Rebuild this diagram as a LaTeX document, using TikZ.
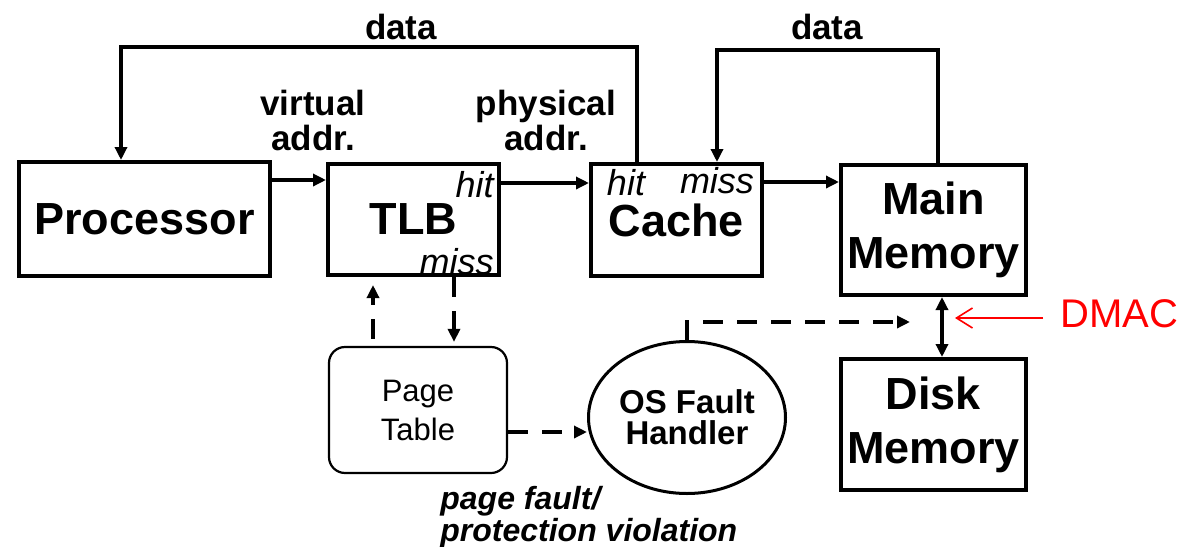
\documentclass[tikz,border=0pt]{standalone}
\usepackage{fontspec}
\setmainfont{Liberation Sans}
\usetikzlibrary{arrows.meta,shapes.geometric}
\begin{document}
\begin{tikzpicture}[x=0.5pt,y=-0.5pt,line join=miter,
 box/.style={draw,line width=2pt,inner sep=0pt,align=center,font=\fontsize{22.5}{27}\selectfont\bfseries},
 arr/.style={line width=1.75pt,-{Triangle[length=6.5pt,width=6pt]}},
 dsh/.style={dash pattern=on 10pt off 7pt},
 lbl/.style={font=\fontsize{17.5}{17.5}\selectfont\bfseries,align=center,inner sep=0pt},
 hm/.style={font=\fontsize{18}{18}\selectfont\itshape,inner sep=0pt},
]
\useasboundingbox (0,0) rectangle (1196,547);
% boxes
\node[box,minimum width=125.5pt,minimum height=57pt] (proc) at (144.5,219) {Processor};
\node[box,minimum width=85.5pt,minimum height=55.5pt] (tlb) at (413.5,219.5) {TLB};
\node[box,minimum width=85.5pt,minimum height=56pt] (cache) at (676.5,220) {Cache};
\node[box,minimum width=92.5pt,minimum height=65pt] (mem) at (933.5,230) {Main\\Memory};
\node[box,minimum width=92.5pt,minimum height=65.5pt] (disk) at (933.5,424.5) {Disk\\Memory};
\node[draw,line width=1.1pt,rounded corners=8pt,minimum width=89pt,minimum height=63pt,inner sep=0pt,align=center,font=\fontsize{15.5}{19.5}\selectfont] (pt) at (418,410) {Page\\Table};
\node[ellipse,draw,line width=1.5pt,minimum width=98.5pt,minimum height=76pt,inner sep=0pt,align=center,font=\fontsize{16.5}{15.5}\selectfont\bfseries] (os) at (687,417.5) {OS Fault\\Handler};
% labels
\node[lbl] (data1) at (401,27) {data};
\node[lbl] (data2) at (827,27) {data};
\node[lbl] (va) at (313,120) {virtual\\addr.};
\node[lbl] (pa) at (546,120) {physical\\addr.};
\node[hm,anchor=east] (tlbhit) at (494,185) {hit};
\node[hm,anchor=east] (tlbmiss) at (494,262) {miss};
\node[hm] (chit) at (626,183) {hit};
\node[hm] (cmiss) at (717,181) {miss};
\node[font=\fontsize{16}{16}\selectfont\bfseries\itshape,align=left,inner sep=0pt,anchor=north west] (pf) at (440,486) {page fault/\\protection violation};
\node[text=red,font=\fontsize{20}{24}\selectfont,inner sep=0pt,anchor=west] (dmac) at (1060,314) {DMAC};
% coordinates
\coordinate (d1a) at (637,47);
\coordinate (d1b) at (121,47);
\coordinate (d2a) at (938,50);
\coordinate (d2b) at (717,50);
\coordinate (ya) at (0,180);
\coordinate (yb) at (0,183);
\coordinate (yc) at (0,182);
\coordinate (xu) at (373,0);
\coordinate (xd) at (454,0);
\coordinate (ye) at (0,432);
\coordinate (osk) at (687,322);
\coordinate (ost) at (910,322);
\coordinate (xm) at (942,0);
\coordinate (dmt) at (955,318);
% connectors
\draw[arr] (cache.north -| d1a) -- (d1a) -- (d1b) -- (proc.north -| d1b);
\draw[arr] (mem.north -| d2a) -- (d2a) -- (d2b) -- (cache.north -| d2b);
\draw[arr] (proc.east |- ya) -- (tlb.west |- ya);
\draw[arr] (tlb.east |- yb) -- (cache.west |- yb);
\draw[arr] (cache.east |- yc) -- (mem.west |- yc);
\draw[arr,dsh,shorten <=3.5pt,shorten >=4pt] (pt.north -| xu) -- (tlb.south -| xu);
\draw[arr,dsh,shorten >=2pt] (tlb.south -| xd) -- (pt.north -| xd);
\draw[arr,dsh] (pt.east |- ye) -- (os.west |- ye);
\draw[arr,dsh] (os.north) -- (osk) -- (ost);
\draw[line width=1.75pt,{Triangle[length=6.5pt,width=6pt]}-{Triangle[length=6.5pt,width=6pt]}] (mem.south -| xm) -- (disk.north -| xm);
\draw[red,line width=0.8pt,shorten <=8.5pt,-{Straight Barb[length=8pt,width=10pt]}] (dmac.west |- dmt) -- (dmt);
\end{tikzpicture}
\end{document}
